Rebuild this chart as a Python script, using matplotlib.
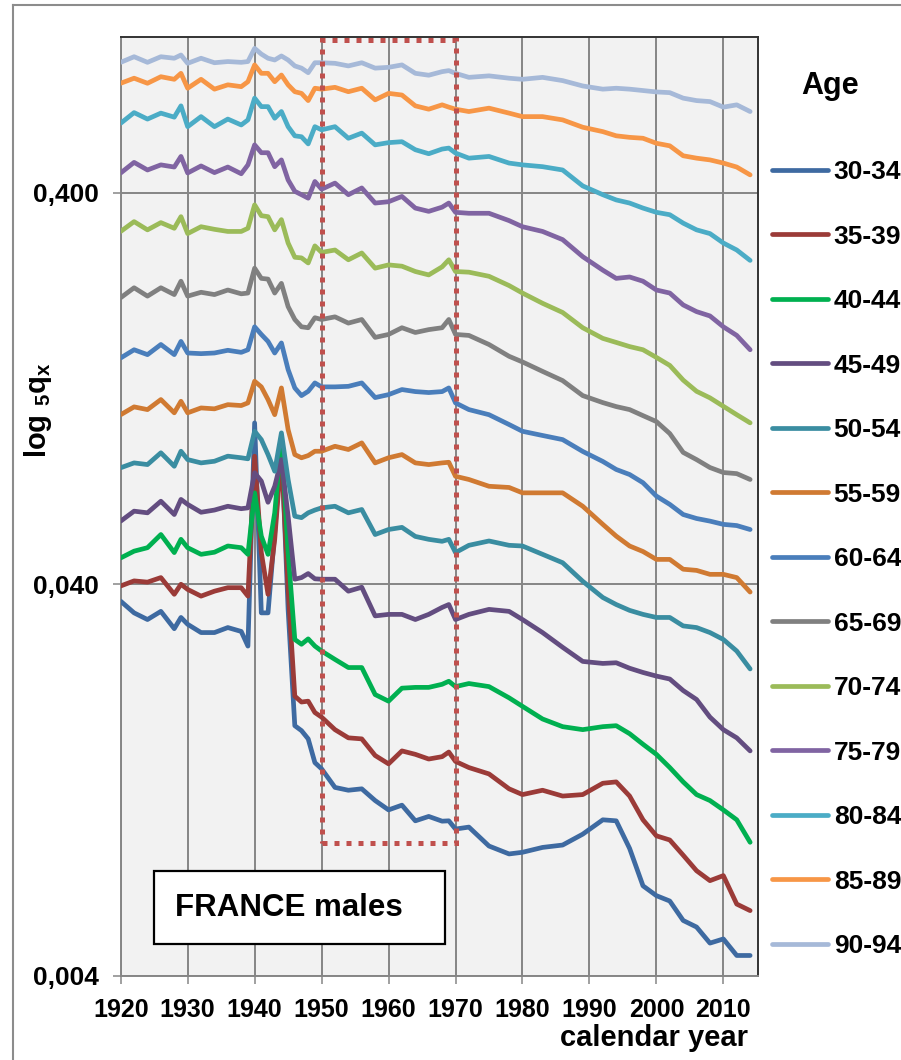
import matplotlib
matplotlib.use('Agg')
import matplotlib.pyplot as plt
from matplotlib.lines import Line2D
from matplotlib.patches import Rectangle
from matplotlib.ticker import NullLocator

plt.rcParams['font.family'] = ['Liberation Sans', 'DejaVu Sans']
plt.rcParams['font.weight'] = 'bold'
plt.rcParams['mathtext.fontset'] = 'custom'
plt.rcParams['mathtext.rm'] = 'Liberation Sans:bold'
plt.rcParams['mathtext.it'] = 'Liberation Sans:bold'
plt.rcParams['mathtext.bf'] = 'Liberation Sans:bold'

# calendar years (denser around WWII)
years = [1920, 1922, 1924, 1926, 1928, 1929, 1930, 1932, 1934, 1936, 1938,
         1939, 1940, 1941, 1942, 1943, 1944, 1945, 1946, 1947, 1948, 1949, 1950,
         1952, 1954, 1956, 1958, 1960, 1962, 1964, 1966, 1968,
         1969, 1970,
         1972, 1975, 1978, 1980, 1983, 1986, 1989,
         1992, 1994, 1996, 1998, 2000, 2002, 2004, 2006, 2008, 2010, 2012, 2014]

# 5qx, France males, by age group
q_30_34 = [0.0362, 0.0338, 0.0325, 0.0341, 0.0308, 0.0329, 0.0316, 0.0301, 0.0301, 0.0310, 0.0303,
           0.0278, 0.1034, 0.0338, 0.0338, 0.0542, 0.0919, 0.0345, 0.0174, 0.0169, 0.0161, 0.0140, 0.0135,
           0.0121, 0.0119, 0.0120, 0.0112, 0.0106, 0.0109, 0.00994, 0.0102, 0.00992,
           0.00994, 0.00947,
           0.00958, 0.00857, 0.00818, 0.00826, 0.00850, 0.00862, 0.00919,
           0.0100, 0.00994, 0.00845, 0.00678, 0.00640, 0.00620, 0.00553, 0.00532, 0.00484, 0.00496, 0.00450, 0.00450]
q_35_39 = [0.0396, 0.0408, 0.0405, 0.0416, 0.0377, 0.0400, 0.0388, 0.0373, 0.0384, 0.0392, 0.0392,
           0.0373, 0.0850, 0.0482, 0.0377, 0.0521, 0.0867, 0.0388, 0.0207, 0.0200, 0.0201, 0.0188, 0.0183,
           0.0170, 0.0162, 0.0161, 0.0146, 0.0139, 0.0150, 0.0147, 0.0143, 0.0145,
           0.0149, 0.0141,
           0.0136, 0.0131, 0.0120, 0.0116, 0.0119, 0.0115, 0.0116,
           0.0124, 0.0125, 0.0115, 0.0100, 0.0091, 0.00888, 0.00812, 0.00741, 0.00699, 0.00720, 0.00609, 0.00586]
q_40_44 = [0.0467, 0.0486, 0.0496, 0.0536, 0.0482, 0.0521, 0.0496, 0.0477, 0.0483, 0.0501, 0.0496,
           0.0477, 0.0685, 0.0531, 0.0477, 0.0609, 0.0937, 0.0482, 0.0289, 0.0281, 0.0290, 0.0278, 0.0270,
           0.0257, 0.0245, 0.0245, 0.0209, 0.0201, 0.0217, 0.0218, 0.0218, 0.0222,
           0.0226, 0.0219,
           0.0223, 0.0219, 0.0205, 0.0195, 0.0181, 0.0173, 0.0170,
           0.0173, 0.0174, 0.0166, 0.0156, 0.0147, 0.0136, 0.0125, 0.0116, 0.0112, 0.0106, 0.0100, 0.00876]
q_45_49 = [0.0580, 0.0615, 0.0609, 0.0652, 0.0603, 0.0659, 0.0640, 0.0611, 0.0619, 0.0633, 0.0624,
           0.0627, 0.0771, 0.0734, 0.0648, 0.0712, 0.0833, 0.0597, 0.0412, 0.0416, 0.0426, 0.0413, 0.0412,
           0.0412, 0.0384, 0.0393, 0.0332, 0.0335, 0.0335, 0.0325, 0.0335, 0.0349,
           0.0355, 0.0325,
           0.0335, 0.0345, 0.0341, 0.0325, 0.0301, 0.0276, 0.0254,
           0.0251, 0.0252, 0.0244, 0.0238, 0.0233, 0.0229, 0.0214, 0.0203, 0.0183, 0.0170, 0.0162, 0.0150]
q_50_54 = [0.0794, 0.0817, 0.0809, 0.0867, 0.0801, 0.0875, 0.0833, 0.0817, 0.0825, 0.0850, 0.0842,
           0.0837, 0.0984, 0.0937, 0.0858, 0.0778, 0.0975, 0.0741, 0.0597, 0.0592, 0.0609, 0.0619, 0.0627,
           0.0633, 0.0609, 0.0621, 0.0536, 0.0552, 0.0559, 0.0530, 0.0521, 0.0515,
           0.0521, 0.0482,
           0.0503, 0.0516, 0.0503, 0.0501, 0.0477, 0.0454, 0.0407,
           0.0370, 0.0355, 0.0343, 0.0335, 0.0329, 0.0329, 0.0313, 0.0310, 0.0301, 0.0289, 0.0270, 0.0243]
q_55_59 = [0.1085, 0.1136, 0.1118, 0.1186, 0.1097, 0.1174, 0.1097, 0.1129, 0.1123, 0.1151, 0.1145,
           0.1163, 0.1321, 0.1278, 0.1186, 0.1085, 0.1270, 0.0994, 0.0858, 0.0842, 0.0853, 0.0875, 0.0875,
           0.0901, 0.0884, 0.0919, 0.0817, 0.0842, 0.0858, 0.0817, 0.0809, 0.0817,
           0.0820, 0.0755,
           0.0741, 0.0712, 0.0707, 0.0685, 0.0685, 0.0685, 0.0633,
           0.0569, 0.0531, 0.0501, 0.0485, 0.0463, 0.0463, 0.0437, 0.0434, 0.0424, 0.0424, 0.0416, 0.0382]
q_60_64 = [0.1515, 0.1590, 0.1545, 0.1640, 0.1545, 0.1670, 0.1560, 0.1554, 0.1560, 0.1585, 0.1566,
           0.1590, 0.1820, 0.1740, 0.1670, 0.1560, 0.1655, 0.1415, 0.1270, 0.1214, 0.1245, 0.1308, 0.1278,
           0.1278, 0.1282, 0.1308, 0.1200, 0.1221, 0.1258, 0.1243, 0.1236, 0.1243,
           0.1270, 0.1163,
           0.1118, 0.1085, 0.1024, 0.0984, 0.0960, 0.0937, 0.0874,
           0.0824, 0.0786, 0.0763, 0.0727, 0.0672, 0.0640, 0.0603, 0.0589, 0.0580, 0.0569, 0.0565, 0.0552]
q_65_69 = [0.216, 0.229, 0.218, 0.229, 0.220, 0.238, 0.218, 0.223, 0.220, 0.226, 0.221,
           0.222, 0.257, 0.242, 0.241, 0.222, 0.235, 0.205, 0.190, 0.182, 0.181, 0.192, 0.190,
           0.193, 0.186, 0.190, 0.171, 0.174, 0.181, 0.176, 0.179, 0.181,
           0.190, 0.174,
           0.173, 0.164, 0.153, 0.148, 0.140, 0.1326, 0.1214,
           0.1165, 0.1138, 0.1118, 0.1079, 0.1042, 0.0971, 0.0869, 0.0833, 0.0795, 0.0772, 0.0767, 0.0741]
q_70_74 = [0.319, 0.338, 0.322, 0.336, 0.325, 0.348, 0.315, 0.328, 0.323, 0.319, 0.319,
           0.325, 0.373, 0.350, 0.348, 0.322, 0.342, 0.298, 0.274, 0.273, 0.265, 0.293, 0.282,
           0.286, 0.270, 0.281, 0.257, 0.262, 0.260, 0.252, 0.247, 0.259,
           0.270, 0.252,
           0.251, 0.245, 0.232, 0.222, 0.209, 0.198, 0.181,
           0.170, 0.166, 0.162, 0.159, 0.152, 0.145, 0.133, 0.1245, 0.1198, 0.114, 0.1085, 0.1034]
q_75_79 = [0.450, 0.479, 0.458, 0.472, 0.466, 0.496, 0.450, 0.469, 0.451, 0.466, 0.448,
           0.472, 0.531, 0.507, 0.507, 0.467, 0.486, 0.432, 0.404, 0.396, 0.388, 0.428, 0.409,
           0.424, 0.396, 0.412, 0.377, 0.380, 0.392, 0.366, 0.359, 0.368,
           0.377, 0.357,
           0.355, 0.355, 0.340, 0.328, 0.319, 0.304, 0.275,
           0.254, 0.242, 0.244, 0.238, 0.226, 0.222, 0.207, 0.199, 0.194, 0.182, 0.173, 0.159]
q_80_84 = [0.603, 0.642, 0.618, 0.640, 0.625, 0.668, 0.591, 0.627, 0.591, 0.618, 0.597,
           0.615, 0.699, 0.665, 0.665, 0.621, 0.646, 0.591, 0.560, 0.557, 0.534, 0.591, 0.580,
           0.591, 0.552, 0.569, 0.531, 0.538, 0.541, 0.516, 0.504, 0.518,
           0.521, 0.506,
           0.491, 0.496, 0.477, 0.472, 0.467, 0.458, 0.417,
           0.396, 0.384, 0.377, 0.366, 0.357, 0.352, 0.335, 0.322, 0.315, 0.298, 0.286, 0.269]
q_85_89 = [0.763, 0.786, 0.763, 0.793, 0.781, 0.809, 0.741, 0.781, 0.737, 0.756, 0.748,
           0.770, 0.850, 0.809, 0.809, 0.770, 0.801, 0.756, 0.726, 0.719, 0.689, 0.741, 0.737,
           0.745, 0.726, 0.741, 0.692, 0.719, 0.712, 0.668, 0.655, 0.672,
           0.663, 0.655,
           0.646, 0.659, 0.640, 0.627, 0.627, 0.615, 0.589,
           0.574, 0.560, 0.555, 0.552, 0.536, 0.528, 0.498, 0.491, 0.486, 0.477, 0.466, 0.445]
q_90_94 = [0.863, 0.892, 0.863, 0.892, 0.884, 0.901, 0.858, 0.884, 0.861, 0.867, 0.863,
           0.867, 0.937, 0.906, 0.884, 0.875, 0.896, 0.875, 0.845, 0.834, 0.812, 0.861, 0.861,
           0.858, 0.845, 0.861, 0.834, 0.838, 0.850, 0.809, 0.800, 0.817,
           0.822, 0.809,
           0.790, 0.797, 0.786, 0.781, 0.790, 0.775, 0.751,
           0.737, 0.741, 0.737, 0.731, 0.725, 0.722, 0.699, 0.689, 0.685, 0.663, 0.672, 0.646]

age_groups = ['30-34', '35-39', '40-44', '45-49', '50-54', '55-59', '60-64',
              '65-69', '70-74', '75-79', '80-84', '85-89', '90-94']
series = [q_30_34, q_35_39, q_40_44, q_45_49, q_50_54, q_55_59, q_60_64,
          q_65_69, q_70_74, q_75_79, q_80_84, q_85_89, q_90_94]
colors = ['#3e6aa1', '#9b3b38', '#00b050', '#634d80', '#3a8da1', '#d07a32', '#4a7ebb',
          '#808080', '#9bbb59', '#8064a2', '#4bacc6', '#f79646', '#a6b9d8']

# highlighted window
window_years = (1950, 1970)
window_q = (0.0087, 0.985)

W, H = 901, 1060
fig = plt.figure(figsize=(W / 100, H / 100), dpi=100)
ax = fig.add_axes([120.7 / W, 1 - 975.5 / H, (757.5 - 120.7) / W, (975.5 - 37.3) / H])
ax.set_facecolor('#f2f2f2')

handles = []
for vals, lab, col in zip(series, age_groups, colors):
    ln, = ax.plot(years, vals, color=col, lw=3.4, label=lab,
                  solid_joinstyle='round', solid_capstyle='round', zorder=3)
    handles.append(ln)

ax.set_yscale('log')
ax.set_ylim(0.004, 1.0)
ax.set_xlim(1920, 2015.1)
ax.set_xticks(range(1920, 2011, 10))
ax.set_xticklabels([str(y) for y in range(1920, 2011, 10)])
ax.set_yticks([0.004, 0.04, 0.4])
ax.set_yticklabels(['0,004', '0,040', '0,400'])
ax.yaxis.set_minor_locator(NullLocator())
ax.grid(True, color='#868686', lw=1.4, zorder=1)
ax.set_axisbelow(True)
ax.tick_params(direction='out', length=6, width=1.1, color='#868686')
ax.tick_params(axis='x', labelsize=18, pad=10)
ax.tick_params(axis='y', labelsize=19, pad=10)
for side in ['left', 'bottom']:
    ax.spines[side].set_color('#868686')
    ax.spines[side].set_linewidth(1.4)
for side in ['top', 'right']:
    ax.spines[side].set_color('#333333')
    ax.spines[side].set_linewidth(1.4)

ax.add_patch(Rectangle((window_years[0], window_q[0]), window_years[1] - window_years[0],
                       window_q[1] - window_q[0], fill=False, ec='#c0504d', lw=3.6,
                       ls=(0, (1, 1.4)), zorder=6, clip_on=False))

# label box
fig.add_artist(Rectangle((154 / W, 1 - 944 / H), (445 - 154) / W, (944 - 871) / H,
                         transform=fig.transFigure, fc='white', ec='black', lw=1.6))
fig.text(175 / W, 1 - 908 / H, 'FRANCE males', fontsize=22.5, ha='left', va='center')

fig.legend(handles=handles, loc='upper left', bbox_to_anchor=(771.7 / W, 1 - 160 / H),
           frameon=False, fontsize=19, handlelength=2.15, handletextpad=0.2,
           labelspacing=1.535, borderpad=0, borderaxespad=0)
fig.text(830 / W, 1 - 86 / H, 'Age', fontsize=22, ha='center', va='center')

fig.text(748 / W, 1 - 1038 / H, 'calendar year', fontsize=21, ha='right', va='center')
fig.text(38 / W, 1 - 410 / H, r'log $_{5}$q$_{x}$', fontsize=21, rotation=90,
         ha='center', va='center')

# outer chart frame
fig.add_artist(Line2D([13 / W, 13 / W], [0, 1 - 5 / H], transform=fig.transFigure,
                      color='#8c8c8c', lw=1.5))
fig.add_artist(Line2D([13 / W, 1], [1 - 5 / H, 1 - 5 / H], transform=fig.transFigure,
                      color='#8c8c8c', lw=1.5))

fig.savefig('out.png', dpi=100)
